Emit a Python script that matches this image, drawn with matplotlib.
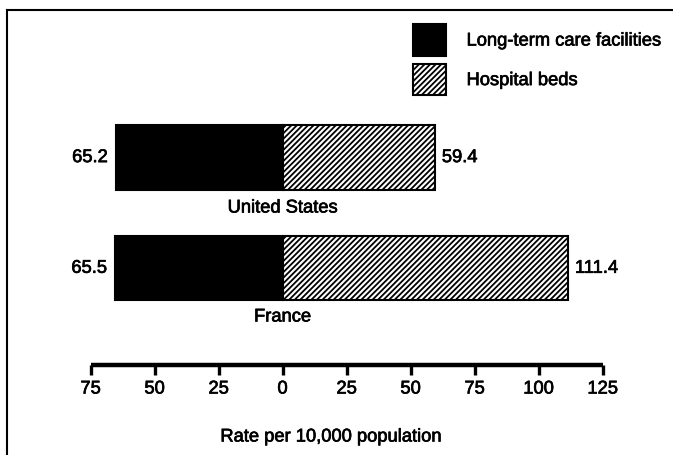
#!/usr/bin/env python3

from matplotlib import pyplot as plt
from matplotlib import patheffects
from matplotlib.lines import Line2D

import numpy as np


countries = ['United States', 'France']
long_term = [65.2, 65.5]
hospital = [59.4, 111.4]
ticks = [-75, -50, -25, 0, 25, 50, 75, 100, 125]

plt.rcParams['font.family'] = ['Liberation Sans', 'DejaVu Sans']
plt.rcParams['font.size'] = 13.2
plt.rcParams['hatch.linewidth'] = 1.3
plt.rcParams['path.effects'] = [
    patheffects.withStroke(linewidth=0.5, foreground='black')]

W, H = 673, 455
fig = plt.figure(figsize=(W / 100, H / 100), dpi=100)
ax = fig.add_axes([0, 0, 1, 1])

# map data onto the pixel grid of the scan
zero_px, px_per_unit = 282.6, 2.56
ax.set_xlim(-zero_px / px_per_unit, (W - zero_px) / px_per_unit)
first_px, row_px = 157.6, 110.7
ax.set_ylim((H - first_px) / row_px, -first_px / row_px)


def ypix(p):
    return (p - first_px) / row_px


ys = np.arange(len(countries))
lt = ax.barh(ys, [-v for v in long_term], height=0.58, color='black',
             edgecolor='black', linewidth=1.5, label='Long-term care facilities',
             path_effects=[])
hb = ax.barh(ys, hospital, height=0.58, color='white', edgecolor='black',
             hatch='//////', linewidth=1.5, label='Hospital beds',
             path_effects=[])

for y, a, b in zip(ys, long_term, hospital):
    ax.text(-a - 3.2, y, '{:.1f}'.format(a), ha='right', va='center')
    ax.text(b + 2.8, y, '{:.1f}'.format(b), ha='left', va='center')

ax.text(0, ypix(208), countries[0], ha='center', va='center')
ax.text(0, ypix(317), countries[1], ha='center', va='center')

# scale at the bottom
y_axis = ypix(364.5)
ax.plot([ticks[0], ticks[-1]], [y_axis, y_axis], color='black', lw=3.2,
        solid_capstyle='butt', path_effects=[])
for t in ticks:
    ax.plot([t, t], [y_axis, ypix(375)], color='black', lw=2.4,
            solid_capstyle='butt', path_effects=[])
    ax.text(t, ypix(389), str(abs(t)), ha='center', va='center')
ax.text(19, ypix(437), 'Rate per 10,000 population', ha='center',
        va='center')

ax.axis('off')

fig.legend(handles=[lt, hb], loc='upper left',
           bbox_to_anchor=(413 / W, 1 - 24 / H), frameon=False,
           borderpad=0, borderaxespad=0, handlelength=1.78, handleheight=2.28,
           handletextpad=1.14, labelspacing=0.43)

# scanned frame (left and top edges)
fig.add_artist(Line2D([7 / W, 7 / W], [0, 1 - 10 / H], color='black', lw=1.5))
fig.add_artist(Line2D([7 / W, 1], [1 - 10 / H, 1 - 10 / H], color='black',
                      lw=1.5))

plt.savefig('out.png', dpi=100)
